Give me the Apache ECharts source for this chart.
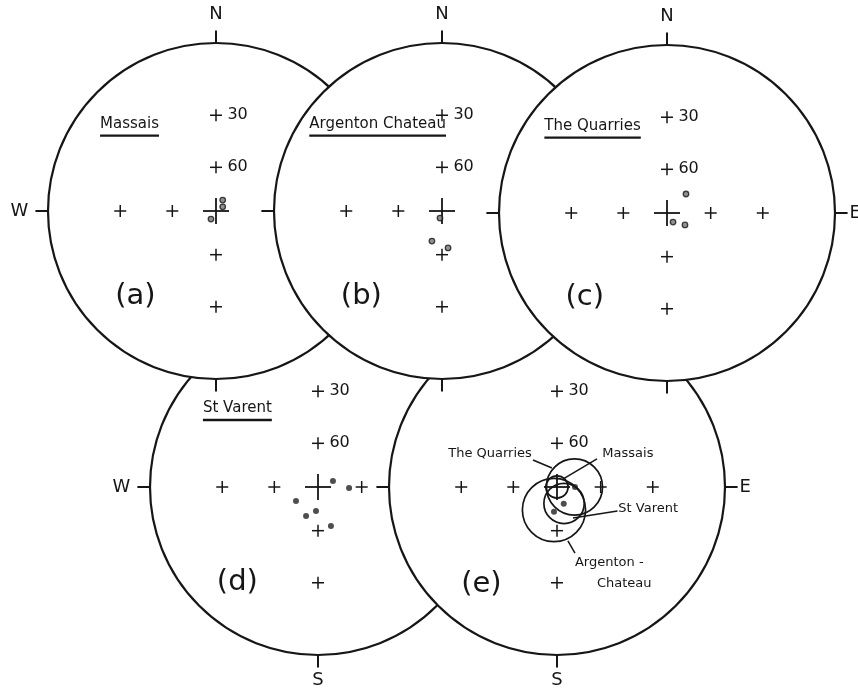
<!DOCTYPE html>
<html>
<head>
<meta charset="utf-8">
<script src="https://cdn.jsdelivr.net/npm/echarts@6/dist/echarts.min.js"></script>
<style>
  html, body { margin: 0; padding: 0; background: #fff; }
  #main { width: 858px; height: 691px; }
</style>
</head>
<body>
<div id="main"></div>
<script>
// stereonets, all values in units of the net radius (x = east, y = north)
const panelLetters = ['(a)', '(b)', '(c)', '(d)', '(e)'];
const siteNames = ['Massais', 'Argenton Chateau', 'The Quarries', 'St Varent'];
const dipLabels = ['30', '60'];
const dipCrossPos = [[0, 0.57], [0, 0.26]];

// grid crosses in each net (apart from the centre cross)
const crossesA = [[-0.57, 0], [-0.26, 0], [0, 0.57], [0, 0.26], [0, -0.26], [0, -0.57]];
const crossesB = [[-0.57, 0], [-0.26, 0], [0, 0.57], [0, 0.26], [0, -0.26], [0, -0.57]];
const crossesC = [[-0.57, 0], [-0.26, 0], [0.26, 0], [0.57, 0], [0, 0.57], [0, 0.26], [0, -0.26], [0, -0.57]];
const crossesD = [[-0.57, 0], [-0.26, 0], [0.26, 0], [0, 0.57], [0, 0.26], [0, -0.26], [0, -0.57]];
const crossesE = [[-0.57, 0], [-0.26, 0], [0.26, 0], [0.57, 0], [0, 0.57], [0, 0.26], [0, -0.26], [0, -0.57]];

// site directions
const pointsMassais = [[0.04, 0.065], [0.04, 0.025], [-0.03, -0.048]];
const pointsArgenton = [[-0.012, -0.042], [-0.06, -0.179], [0.036, -0.22]];
const pointsQuarries = [[0.113, 0.113], [0.036, -0.054], [0.107, -0.071]];
const pointsStVarent = [[0.089, 0.036], [0.185, -0.006], [-0.131, -0.083], [-0.012, -0.143], [-0.071, -0.173], [0.077, -0.232]];

// (e) site means and confidence circles [x, y, radius]
const meanPoints = [[0.107, 0], [0.04, -0.1], [-0.018, -0.147]];
const confCircles = [[0, 0, 0.066], [0.104, 0, 0.167], [0.042, -0.098, 0.12], [-0.018, -0.137, 0.188]];
const meanNames = ['The Quarries', 'Massais', 'St Varent', 'Argenton -', 'Chateau'];

// ---- layout ----
const R = 168;
const SPAN = 1.1;
const panelCenters = [[216, 211], [442, 211], [667, 213], [318, 487], [557, 487]];
const panelZ = [30, 40, 50, 10, 20];     // (b) over (a), (c) over (b), top row over bottom row
const panelCrosses = [crossesA, crossesB, crossesC, crossesD, crossesE];
const panelPoints = [pointsMassais, pointsArgenton, pointsQuarries, pointsStVarent, meanPoints];
const compassDirs = [[0, 1], [1, 0], [0, -1], [-1, 0]];
const compassNames = ['N', 'E', 'S', 'W'];
const compassLabelPos = [[0, 1.17], [1.12, 0], [0, -1.15], [-1.17, 0]];
const compassShown = [['N', 'W'], ['N'], ['N', 'E'], ['W', 'S'], ['E', 'S']];
const titlePos = [[-0.69, 0.52], [-0.79, 0.52], [-0.73, 0.52], [-0.685, 0.47]];
const letterPos = [[-0.48, -0.51], [-0.48, -0.51], [-0.49, -0.5], [-0.48, -0.57], [-0.45, -0.58]];
const meanLabelPos = [[-0.15, 0.2, 'right'], [0.27, 0.2, 'left'], [0.365, -0.13, 'left'], [0.107, -0.45, 'left'], [0.238, -0.575, 'left']];
const leaderLines = [[-0.143, 0.161, -0.03, 0.113], [0.238, 0.167, 0.04, 0.05], [0.36, -0.143, 0.095, -0.185], [0.107, -0.393, 0.065, -0.32]];

const ink = '#161616';
const FONT = '"DejaVu Sans", "Liberation Sans", sans-serif';
const measure = document.createElement('canvas').getContext('2d');

const chart = echarts.init(document.getElementById('main'));

function lineEl(x1, y1, x2, y2, lw) {
  return { type: 'line', shape: { x1: x1, y1: y1, x2: x2, y2: y2 }, style: { stroke: ink, lineWidth: lw } };
}

function crossRender(half, lw) {
  return function (p, api) {
    const c = api.coord([api.value(0), api.value(1)]);
    return { type: 'group', children: [
      lineEl(c[0] - half, c[1], c[0] + half, c[1], lw),
      lineEl(c[0], c[1] - half, c[0], c[1] + half, lw)
    ] };
  };
}

function textSeries(i, z, items, font, underline) {
  return {
    type: 'custom', xAxisIndex: i, yAxisIndex: i, z: z, silent: true, clip: false,
    data: items.map(function (t) { return [t.x, t.y]; }),
    renderItem: function (p, api) {
      const it = items[p.dataIndex];
      const c = api.coord([api.value(0), api.value(1)]);
      const kids = [{ type: 'text', x: c[0], y: c[1], style: {
        text: it.text, font: font, fill: ink, align: it.align || 'left', verticalAlign: 'middle' } }];
      if (underline) {
        measure.font = font;
        const w = measure.measureText(it.text).width;
        kids.push(lineEl(c[0], c[1] + 12, c[0] + w, c[1] + 12, 2.4));
      }
      return { type: 'group', children: kids };
    }
  };
}

const grids = [], xAxes = [], yAxes = [], series = [];

panelCenters.forEach(function (pc, i) {
  const z0 = panelZ[i];
  grids.push({ left: pc[0] - R * SPAN, top: pc[1] - R * SPAN, width: 2 * R * SPAN, height: 2 * R * SPAN });
  xAxes.push({ type: 'value', gridIndex: i, min: -SPAN, max: SPAN, show: false });
  yAxes.push({ type: 'value', gridIndex: i, min: -SPAN, max: SPAN, show: false });

  // net outline, filled white so it hides what lies below
  series.push({
    type: 'custom', xAxisIndex: i, yAxisIndex: i, z: z0, silent: true, clip: false,
    data: [[0, 0, 1]],
    renderItem: function (p, api) {
      const c = api.coord([api.value(0), api.value(1)]);
      const r = api.size([api.value(2), 0])[0];
      return { type: 'circle', shape: { cx: c[0], cy: c[1], r: r },
        style: { fill: '#fff', stroke: ink, lineWidth: 2.2 } };
    }
  });

  // N E S W ticks
  series.push({
    type: 'custom', xAxisIndex: i, yAxisIndex: i, z: z0 + 1, silent: true, clip: false,
    data: compassDirs,
    renderItem: function (p, api) {
      const a = api.coord([api.value(0), api.value(1)]);
      const b = api.coord([api.value(0) * 1.075, api.value(1) * 1.075]);
      return lineEl(a[0], a[1], b[0], b[1], 2);
    }
  });

  series.push({ type: 'custom', xAxisIndex: i, yAxisIndex: i, z: z0 + 1, silent: true,
    data: panelCrosses[i], renderItem: crossRender(6, 1.5) });
  series.push({ type: 'custom', xAxisIndex: i, yAxisIndex: i, z: z0 + 1, silent: true,
    data: [[0, 0]], renderItem: crossRender(13, 1.8) });

  series.push(textSeries(i, z0 + 1, dipLabels.map(function (t, k) {
    return { x: dipCrossPos[k][0] + 0.068, y: dipCrossPos[k][1], text: t };
  }), '16px ' + FONT));

  series.push(textSeries(i, z0 + 1, compassShown[i].map(function (n) {
    const k = compassNames.indexOf(n);
    return { x: compassLabelPos[k][0], y: compassLabelPos[k][1], text: n, align: 'center' };
  }), '18px ' + FONT));

  series.push(textSeries(i, z0 + 1, [{ x: letterPos[i][0], y: letterPos[i][1], text: panelLetters[i], align: 'center' }],
    '29px ' + FONT));

  if (i < 4) {
    series.push(textSeries(i, z0 + 1, [{ x: titlePos[i][0], y: titlePos[i][1], text: siteNames[i] }],
      '15px ' + FONT, true));
  }

  series.push({
    type: 'scatter', xAxisIndex: i, yAxisIndex: i, z: z0 + 2, silent: true, clip: false,
    data: panelPoints[i], symbol: 'circle', symbolSize: i >= 3 ? 6 : 5.5,
    itemStyle: i >= 3 ? { color: '#222' } : { color: '#777', borderColor: ink, borderWidth: 1.3 }
  });
});

// (e): confidence circles, leaders and their labels
series.push({
  type: 'custom', xAxisIndex: 4, yAxisIndex: 4, z: 23, silent: true,
  data: confCircles,
  renderItem: function (p, api) {
    const c = api.coord([api.value(0), api.value(1)]);
    const r = api.size([api.value(2), 0])[0];
    return { type: 'circle', shape: { cx: c[0], cy: c[1], r: r },
      style: { fill: null, stroke: ink, lineWidth: 1.7 } };
  }
});
series.push({
  type: 'custom', xAxisIndex: 4, yAxisIndex: 4, z: 23, silent: true,
  data: leaderLines,
  renderItem: function (p, api) {
    const a = api.coord([api.value(0), api.value(1)]);
    const b = api.coord([api.value(2), api.value(3)]);
    return lineEl(a[0], a[1], b[0], b[1], 1.5);
  }
});
series.push(textSeries(4, 23, meanNames.map(function (t, k) {
  return { x: meanLabelPos[k][0], y: meanLabelPos[k][1], text: t, align: meanLabelPos[k][2] };
}), '13px ' + FONT));

chart.setOption({
  backgroundColor: '#fff',
  animation: false,
  grid: grids,
  xAxis: xAxes,
  yAxis: yAxes,
  series: series
});
</script>
</body>
</html>
